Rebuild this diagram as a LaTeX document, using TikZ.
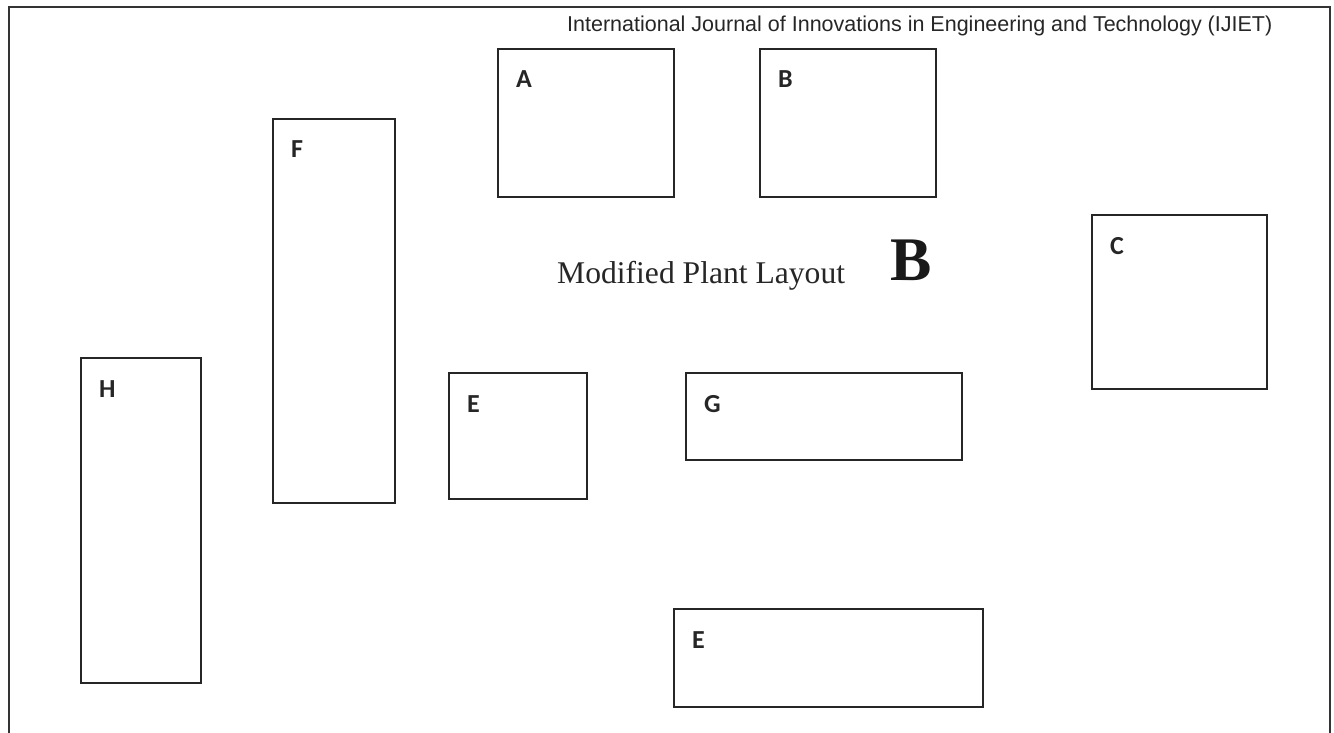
\documentclass[tikz,border=0pt]{standalone}
\usepackage{fontspec}
\setmainfont{Liberation Serif}
\newfontfamily\labfont{Carlito}
\newfontfamily\headfont{Liberation Sans}
\tikzset{
  box/.style={draw=black!85, line width=1.6pt, rectangle, inner sep=0pt, anchor=north west},
  lab/.style={inner sep=0pt, anchor=base west, font=\labfont\bfseries\fontsize{26}{28}\selectfont, text=black!85},
  frameline/.style={draw=black!80, line width=2pt}
}
\begin{document}
\begin{tikzpicture}[x=1pt,y=-1pt]
\useasboundingbox (0,0) rectangle (1334,733);
% outer frame (open at bottom)
\coordinate (fbl) at (9,733);
\coordinate (ftl) at (9,7);
\coordinate (ftr) at (1330,7);
\coordinate (fbr) at (1330,733);
\draw[frameline] (fbl) -- (ftl) -- (ftr) -- (fbr);
% header
\node[inner sep=0pt, anchor=base west, font=\headfont\fontsize{21.5}{23}\selectfont, text=black!85] (head) at (567,32) {International Journal of Innovations in Engineering and Technology (IJIET)};
% boxes
\node[box, minimum width=176pt, minimum height=148pt] (A) at (497,48) {};
\node[box, minimum width=176pt, minimum height=148pt] (B) at (759,48) {};
\node[box, minimum width=175pt, minimum height=174pt] (C) at (1091,214) {};
\node[box, minimum width=122pt, minimum height=384pt] (F) at (272,118) {};
\node[box, minimum width=120pt, minimum height=325pt] (H) at (80,357) {};
\node[box, minimum width=138pt, minimum height=126pt] (E1) at (448,372) {};
\node[box, minimum width=276pt, minimum height=87pt] (G) at (685,372) {};
\node[box, minimum width=309pt, minimum height=98pt] (E2) at (673,608) {};
% labels
\foreach \b/\t in {A/A,B/B,C/C,F/F,H/H,E1/E,G/G,E2/E}{
  \node[lab] (lab\b) at ([xshift=19pt,yshift=-40pt]\b.north west) {\t};
}
% title
\node[inner sep=0pt, anchor=base west, font=\fontsize{31.6}{34}\selectfont, text=black!85] (title) at (557,283) {Modified Plant Layout};
\node[inner sep=0pt, anchor=base west, font=\bfseries\fontsize{62}{66}\selectfont, text=black!90] (bigB) at (890,280) {B};
\end{tikzpicture}
\end{document}
